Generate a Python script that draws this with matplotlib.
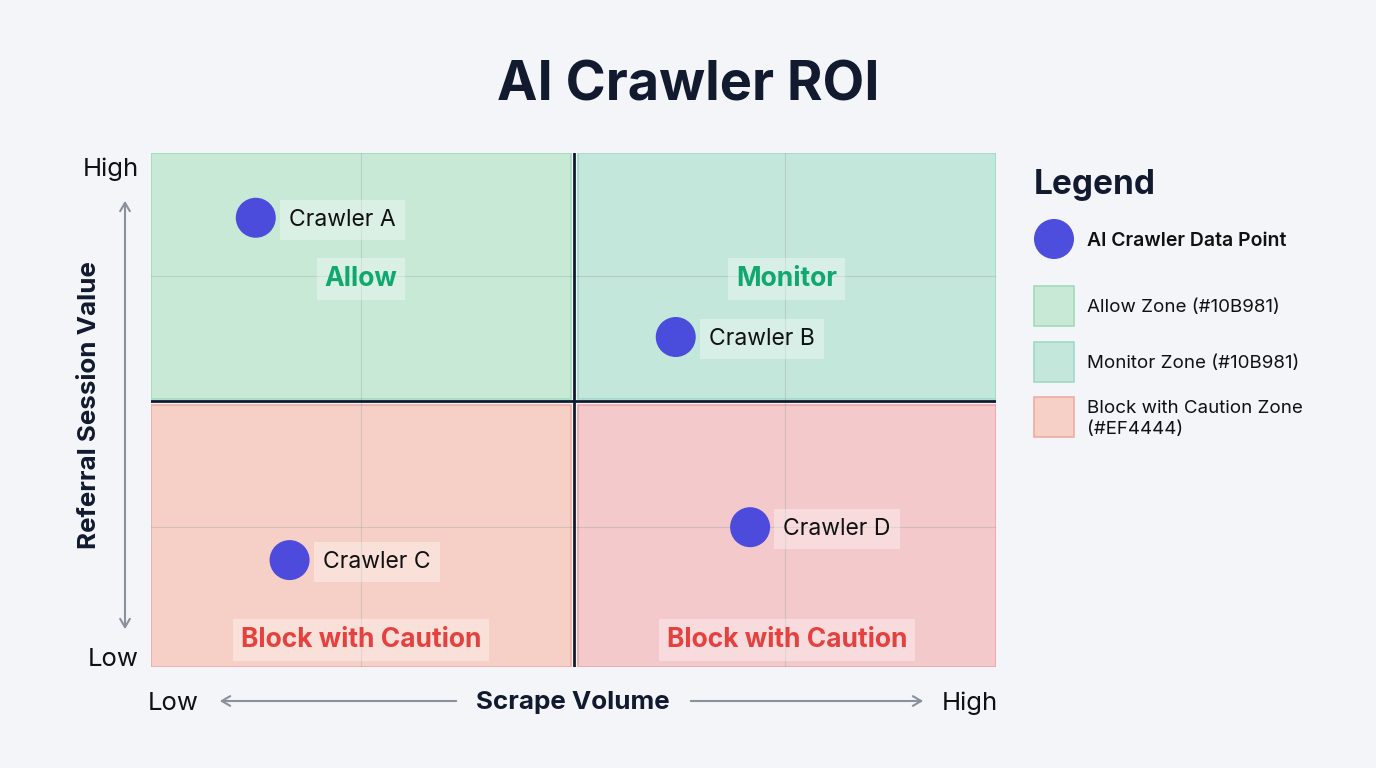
import matplotlib
matplotlib.use("Agg")
import matplotlib.pyplot as plt
from matplotlib.patches import Rectangle

plt.rcParams['font.family'] = ['Inter', 'DejaVu Sans']

# crawler points (x = scrape volume, y = referral session value, 0-10 scale)
crawlers = ["Crawler A", "Crawler B", "Crawler C", "Crawler D"]
scrape_volume = [1.24, 6.21, 1.64, 7.09]
session_value = [8.74, 6.42, 2.08, 2.72]

# quadrant zones
zone_names = ["Allow", "Monitor", "Block with Caution", "Block with Caution"]
zone_x = [(0.0, 4.97), (5.05, 10.0), (0.0, 4.97), (5.05, 10.0)]
zone_y = [(5.21, 10.0), (5.21, 10.0), (0.0, 5.10), (0.0, 5.10)]
zone_fill = ["#c9e9d7", "#c4e7dc", "#f6d0c6", "#f3c9cb"]
zone_edge = ["#a3d9bb", "#a1d9c8", "#efaca2", "#eda6a8"]
zone_text = ["#10a86f", "#10a86f", "#e5413f", "#e5413f"]

legend_labels = ["Allow Zone (#10B981)", "Monitor Zone (#10B981)",
                 "Block with Caution Zone\n(#EF4444)"]
legend_fill = ["#c9e9d7", "#c4e7dc", "#f6d0c6"]
legend_edge = ["#a3d9bb", "#a1d9c8", "#efaca2"]

bg = "#f3f5f9"
dark = "#111a2e"
point_color = "#4444dd"
arrow_color = "#8a909c"

fig = plt.figure(figsize=(13.76, 7.68), dpi=100, facecolor=bg)

# overlay in pixel coordinates for titles, arrows and legend
lg = fig.add_axes([0, 0, 1, 1], facecolor="none")
lg.set_xlim(0, 1376)
lg.set_ylim(768, 0)
lg.axis("off")

ax = fig.add_axes([151 / 1376, 101 / 768, 845 / 1376, 514 / 768])
ax.set_xlim(0, 10)
ax.set_ylim(0, 10)
ax.axis("off")

for i in range(len(zone_names)):
    x0, x1 = zone_x[i]
    y0, y1 = zone_y[i]
    ax.add_patch(Rectangle((x0, y0), x1 - x0, y1 - y0, facecolor=zone_fill[i],
                           edgecolor=zone_edge[i], lw=1.2, zorder=1))
    cx, cy = (x0 + x1) / 2, (y0 + y1) / 2
    ty = cy - 0.05 if y0 > 5 else 0.53
    ax.text(cx, ty, zone_names[i], color=zone_text[i], fontsize=19, fontweight="bold",
            ha="center", va="center", zorder=4,
            bbox=dict(boxstyle="square,pad=0.3", fc="white", ec="none", alpha=0.35))

# faint grid at quadrant centres
for gx in [2.48, 7.5]:
    ax.plot([gx, gx], [0, 10], color="#8a9a95", lw=0.8, alpha=0.3, zorder=2)
for gy in [7.6, 2.72]:
    ax.plot([0, 10], [gy, gy], color="#8a9a95", lw=0.8, alpha=0.3, zorder=2)

# dividers
ax.plot([5.01, 5.01], [0, 10], color=dark, lw=2.0, zorder=3)
ax.plot([0, 10], [5.17, 5.17], color=dark, lw=2.0, zorder=3)

ax.scatter(scrape_volume, session_value, s=830, color=point_color, alpha=0.95,
           edgecolor="none", zorder=5)
for name, x, y in zip(crawlers, scrape_volume, session_value):
    ax.annotate(name, (x, y), xytext=(24, -1.5), textcoords="offset points",
                fontsize=16.5, color="#111111", ha="left", va="center", zorder=6,
                bbox=dict(boxstyle="square,pad=0.4", fc="white", ec="none", alpha=0.35))

# title and axis labels
lg.text(688, 86, "AI Crawler ROI", fontsize=39, fontweight="bold",
        color=dark, ha="center", va="center")
lg.text(90, 405, "Referral Session Value", fontsize=18.7, fontweight="bold",
        color=dark, rotation=90, ha="center", va="center")
lg.text(111, 169, "High", fontsize=18.5, color="#111111", ha="center", va="center")
lg.text(113, 659, "Low", fontsize=18.5, color="#111111", ha="center", va="center")
lg.annotate("", xy=(125, 198), xytext=(125, 632),
            arrowprops=dict(arrowstyle="<->,head_width=0.35,head_length=0.6",
                            color=arrow_color, lw=1.5))

lg.text(573, 703, "Scrape Volume", fontsize=18.7, fontweight="bold",
        color=dark, ha="center", va="center")
lg.text(173, 703, "Low", fontsize=18.5, color="#111111", ha="center", va="center")
lg.text(970, 703, "High", fontsize=18.5, color="#111111", ha="center", va="center")
lg.annotate("", xy=(217, 701), xytext=(459, 701),
            arrowprops=dict(arrowstyle="->,head_width=0.35,head_length=0.6",
                            color=arrow_color, lw=1.5))
lg.annotate("", xy=(926, 701), xytext=(688, 701),
            arrowprops=dict(arrowstyle="->,head_width=0.35,head_length=0.6",
                            color=arrow_color, lw=1.5))

# legend panel
lg.text(1034, 185, "Legend", fontsize=24, fontweight="bold", color=dark, va="center", ha="left")
lg.scatter([1054], [239], s=830, color=point_color, alpha=0.95, edgecolor="none")
lg.text(1087, 241, "AI Crawler Data Point", fontsize=14, fontweight="semibold",
        color="#111111", va="center", ha="left")
for i, lab in enumerate(legend_labels):
    yc = 306 + i * 55.5
    lg.add_patch(Rectangle((1034, yc - 20), 40, 40, facecolor=legend_fill[i],
                           edgecolor=legend_edge[i], lw=1.2))
    lg.text(1087, yc + 2, lab, fontsize=13.5, color="#111111", va="center", ha="left",
            linespacing=1.3)

fig.savefig("out.png", dpi=100, facecolor=bg)
